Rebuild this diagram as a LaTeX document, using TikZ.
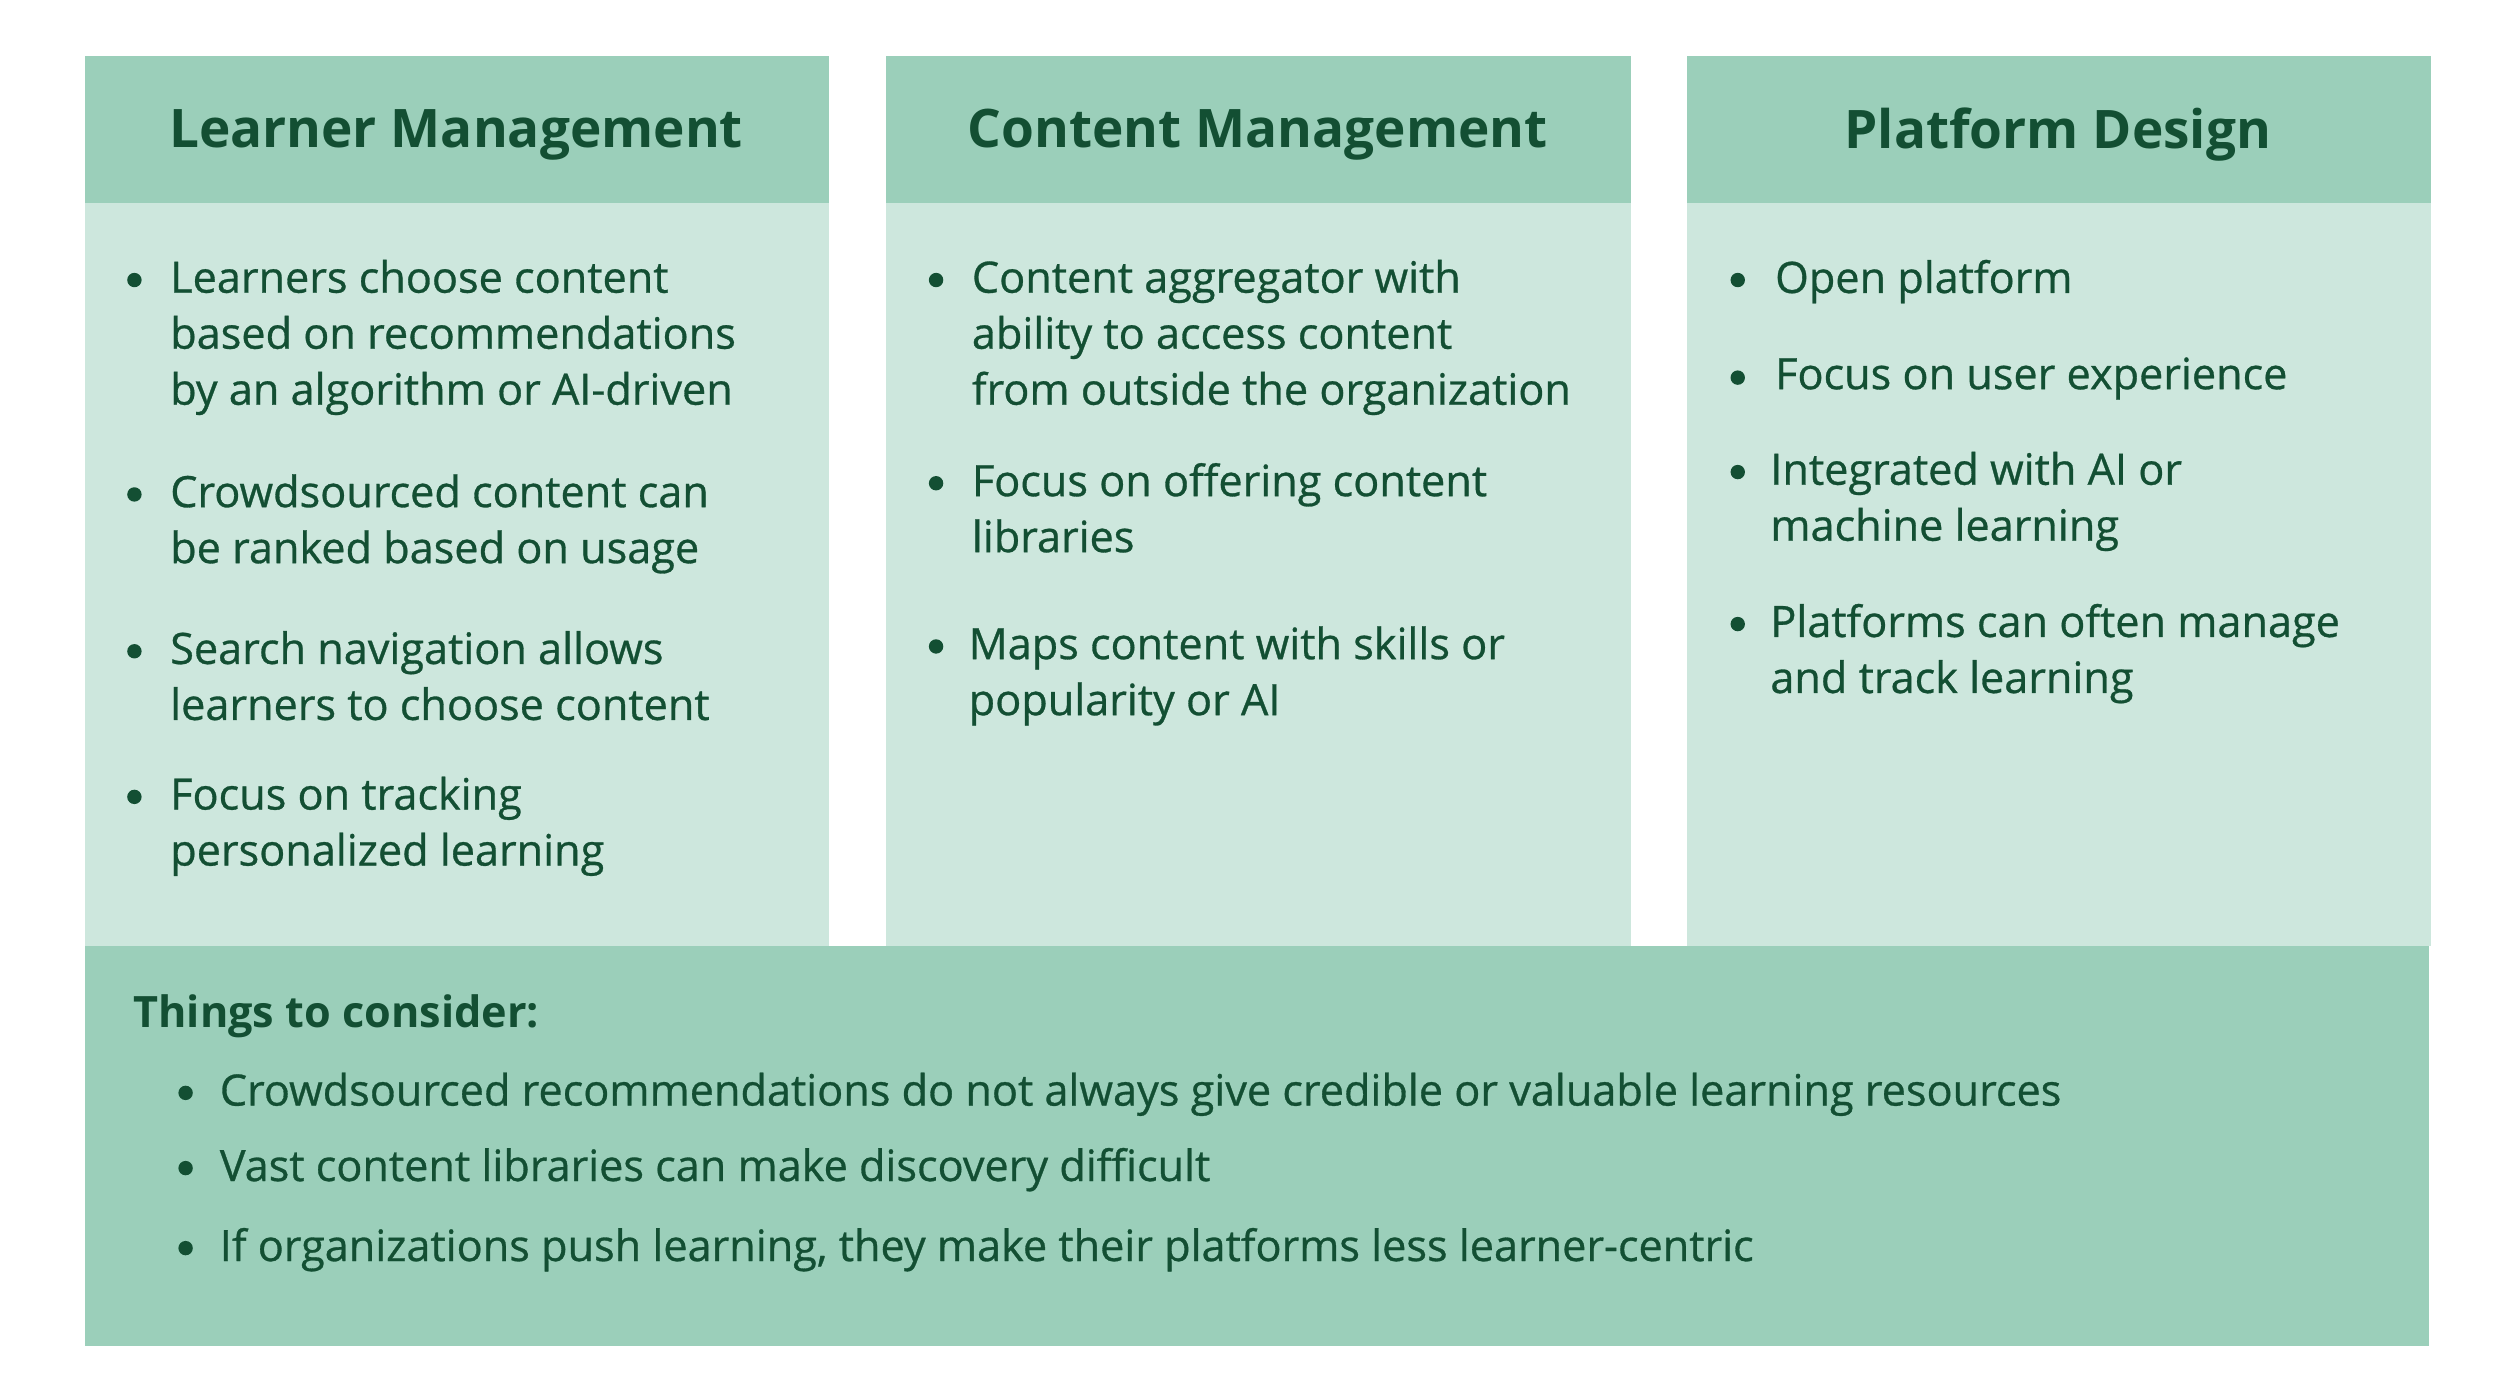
\documentclass[tikz,border=0pt]{standalone}
\usepackage{fontspec}
\setmainfont{Open Sans}
\newfontfamily\semib{Open Sans}[FakeBold=0.7]
\definecolor{hdr}{HTML}{9BCFBA}
\definecolor{bod}{HTML}{CDE7DD}
\definecolor{txt}{HTML}{134F33}
\begin{document}
\begin{tikzpicture}[x=0.5pt,y=-0.5pt,
  every node/.style={text=txt,inner sep=0pt},
  head/.style={font=\fontsize{16.6}{19}\selectfont\bfseries},
  item/.style={anchor=north west,align=left,font=\semib\fontsize{13.5}{17.5}\selectfont},
  dot/.style={circle,fill=txt,minimum size=4.5pt}]
\useasboundingbox (0,0) rectangle (1563,874);
\fill[white] (0,0) rectangle (1563,874);
\foreach \x/\n in {53/a,554/b,1054/c}{
  \fill[bod] (\x,127) rectangle (\x+465,591);
  \fill[hdr] (\x,35) rectangle (\x+465,127);
}
\fill[hdr] (53,591) rectangle (1518,841);
\node[head] (ha) at (285,84) {Learner Management};
\node[head] (hb) at (786,84) {Content Management};
\node[head] (hc) at (1286,84) {Platform Design};
\foreach \y/\t [count=\i] in {175/{Learners choose content\\based on recommendations\\by an algorithm or AI-driven},
 309/{Crowdsourced content can\\be ranked based on usage},
 407/{Search navigation allows\\learners to choose content},
 498/{Focus on tracking\\personalized learning}}{
  \node[dot] (da\i) at (84,\y) {};
  \node[item] (ta\i) at (106,\y-13) {\t};
}
\foreach \y/\xx/\t [count=\i] in {175/607/{Content aggregator with\\ability to access content\\from outside the organization},
 302/607/{Focus on offering content\\libraries},
 404/605/{Maps content with skills or\\popularity or AI}}{
  \node[dot] (db\i) at (585,\y) {};
  \node[item] (tb\i) at (\xx,\y-13) {\t};
}
\foreach \y/\xx/\t [count=\i] in {175/1109/{Open platform},
 236/1109/{Focus on user experience},
 295/1106/{Integrated with AI or\\machine learning},
 390/1106/{Platforms can often manage\\and track learning}}{
  \node[dot] (dc\i) at (1086,\y) {};
  \node[item] (tc\i) at (\xx,\y-13) {\t};
}
\node[item,font=\fontsize{13.5}{17.5}\selectfont\bfseries] (tt) at (83,621) {Things to consider:};
\foreach \y/\t [count=\i] in {683/{Crowdsourced recommendations do not always give credible or valuable learning resources},
 730/{Vast content libraries can make discovery difficult},
 780/{If organizations push learning, they make their platforms less learner-centric}}{
  \node[dot] (dd\i) at (116,\y) {};
  \node[item] (td\i) at (137,\y-13) {\t};
}
\end{tikzpicture}
\end{document}
